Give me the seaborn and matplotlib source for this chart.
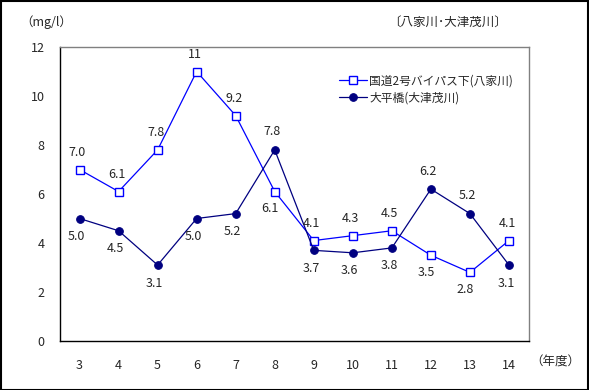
import numpy as np
import pandas as pd
import matplotlib
matplotlib.use("Agg")
import matplotlib.pyplot as plt
from matplotlib.patches import Rectangle
import seaborn as sns

# data
years = ["3", "4", "5", "6", "7", "8", "9", "10", "11", "12", "13", "14"]
yaka_values = [7.0, 6.1, 7.8, 11, 9.2, 6.1, 4.1, 4.3, 4.5, 3.5, 2.8, 4.1]
otsumo_values = [5.0, 4.5, 3.1, 5.0, 5.2, 7.8, 3.7, 3.6, 3.8, 6.2, 5.2, 3.1]
yaka_labels = ["7.0", "6.1", "7.8", "11", "9.2", "6.1", "4.1", "4.3", "4.5", "3.5", "2.8", "4.1"]
otsumo_labels = ["5.0", "4.5", "3.1", "5.0", "5.2", "7.8", "3.7", "3.6", "3.8", "6.2", "5.2", "3.1"]
# +1 = label above the point, -1 = below
yaka_side = [1, 1, 1, 1, 1, -1, 1, 1, 1, -1, -1, 1]
otsumo_side = [-1, -1, -1, -1, -1, 1, -1, -1, -1, 1, 1, -1]
yaka_name = "国道2号バイパス下(八家川)"
otsumo_name = "大平橋(大津茂川)"

sns.set_style("white")
plt.rcParams["font.family"] = ["Noto Sans CJK JP", "DejaVu Sans"]
plt.rcParams["font.size"] = 9

W, H = 589, 390
fig = plt.figure(figsize=(W / 100, H / 100), dpi=100)
ax = fig.add_axes([60 / W, (H - 341) / H, (528.5 - 60) / W, 294 / H])

x = np.arange(len(years))
df = pd.DataFrame({"x": x, "yaka": yaka_values, "otsumo": otsumo_values})

sns.lineplot(data=df, x="x", y="yaka", ax=ax, color="#0000FF", lw=0.9,
             marker="s", markersize=6, markerfacecolor="white",
             markeredgecolor="#0000FF", markeredgewidth=1.0, label=yaka_name)
sns.lineplot(data=df, x="x", y="otsumo", ax=ax, color="#000080", lw=0.9,
             marker="o", markersize=5.5, markerfacecolor="#000080",
             markeredgecolor="#000080", label=otsumo_name)

for xi, v, lab, s in zip(x, yaka_values, yaka_labels, yaka_side):
    ax.annotate(lab, (xi, v), xytext=(-2 if s > 0 else -5, 17 * s),
                textcoords="offset pixels", ha="center", va="center", fontsize=9)
for xi, v, lab, s in zip(x, otsumo_values, otsumo_labels, otsumo_side):
    ax.annotate(lab, (xi, v), xytext=(-3, 18 * s),
                textcoords="offset pixels", ha="center", va="center", fontsize=9)

ax.set_xlim(-0.5, len(years) - 0.5)
ax.set_ylim(0, 12)
ax.set_yticks(np.arange(0, 13, 2))
ax.set_xticks(np.arange(-0.5, len(years), 1))
ax.set_xticklabels([])
ax.set_xticks(x, minor=True)
ax.set_xticklabels(years, minor=True)
ax.tick_params(axis="x", which="major", direction="out", length=5, width=0.8, color="black")
ax.tick_params(axis="x", which="minor", length=0, pad=13, labelsize=9)
ax.tick_params(axis="y", direction="out", length=5, width=0.8, color="black", labelsize=9, pad=6)
ax.set_xlabel("")
ax.set_ylabel("")

for side in ["left", "bottom"]:
    ax.spines[side].set_color("black")
    ax.spines[side].set_linewidth(1.0)
for side in ["top", "right"]:
    ax.spines[side].set_color("#808080")
    ax.spines[side].set_linewidth(1.0)

ax.legend(loc="upper left", bbox_to_anchor=(328 / W, 1 - 64 / H),
          bbox_transform=fig.transFigure, frameon=False, fontsize=8.5,
          handlelength=2.4, labelspacing=0.3, handletextpad=0.2)

fig.text(20 / W, 1 - 22 / H, "（mg/l）", ha="left", va="center", fontsize=9)
fig.text(507 / W, 1 - 22 / H, "〔八家川･大津茂川〕", ha="right", va="center", fontsize=9)
fig.text(530 / W, 1 - 362 / H, "（年度）", ha="left", va="center", fontsize=9)

fig.patches.append(Rectangle((0.001, 0.001), 0.997, 0.996, transform=fig.transFigure,
                             fill=False, edgecolor="black", lw=1.5))

fig.savefig("out.png", dpi=100)
